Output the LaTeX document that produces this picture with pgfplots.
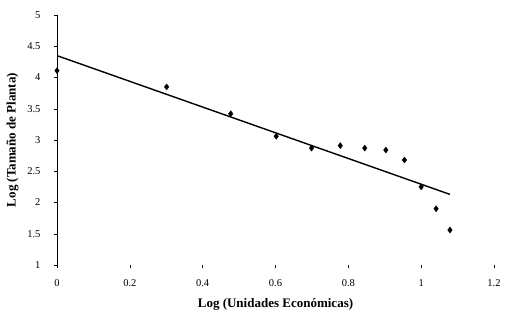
\documentclass[border=0pt]{standalone}
\usepackage{pgfplots}
\pgfplotsset{compat=1.18}
\usepackage{fontspec}
\setmainfont{Liberation Serif}
\begin{document}
\begin{tikzpicture}
\path[use as bounding box] (-57pt,-57pt) rectangle (448pt,265pt);
\begin{axis}[
  at={(0,0)}, anchor=south west,
  scale only axis, width=437pt, height=250pt,
  xmin=0, xmax=1.2, ymin=1, ymax=5,
  xtick={0,0.2,0.4,0.6,0.8,1,1.2},
  ytick={1,1.5,2,2.5,3,3.5,4,4.5,5},
  axis x line*=bottom, axis y line*=left,
  x axis line style={draw=none},
  y axis line style={black, line width=0.8pt},
  tick align=outside, tick style={black, line width=0.5pt},
  major tick length=3pt,
  /pgf/number format/assume math mode=true,
  ticklabel style={font=\fontsize{10.5}{12}\selectfont},
  xticklabel style={yshift=-8pt},
  yticklabel style={xshift=-10pt},
  xlabel={\textbf{Log (Unidades Económicas)}},
  ylabel={\textbf{Log (Tamaño de Planta)}},
  label style={font=\fontsize{13}{15}\selectfont},
  xlabel style={yshift=-5pt},
  ylabel style={yshift=2pt},
  clip=false,
]
\addplot[only marks, mark=diamond*, mark size=3pt, black] coordinates {
(0,4.11) (0.301,3.85) (0.477,3.42) (0.602,3.06) (0.699,2.87) (0.778,2.91)
(0.845,2.87) (0.903,2.84) (0.954,2.68) (1.0,2.25) (1.041,1.90) (1.079,1.56)
};
\addplot[black, line width=1.4pt] coordinates {(0,4.35) (1.079,2.13)};
\end{axis}
\end{tikzpicture}
\end{document}
